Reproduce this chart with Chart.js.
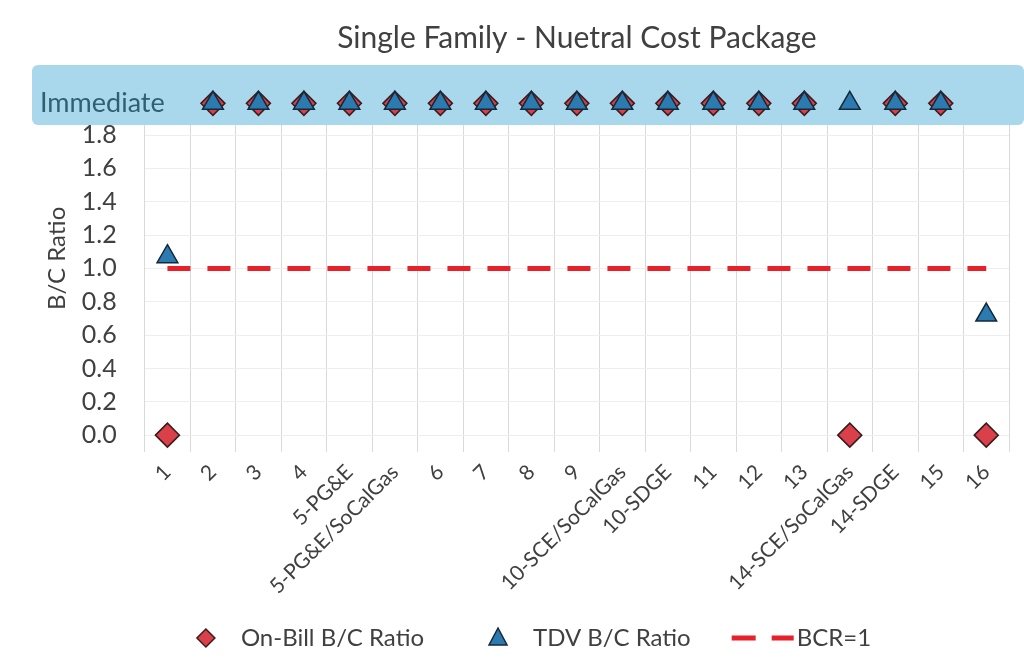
<!DOCTYPE html>
<html lang="en">
<head>
<meta charset="UTF-8">
<title>Single Family - Nuetral Cost Package</title>
<style>
  body { margin: 0; background: #fff; }
  .chart-box { width: 1024px; height: 671px; }
</style>
<script src="https://cdn.jsdelivr.net/npm/chart.js"></script>
</head>
<body>
<div class="chart-box"><canvas id="bcChart"></canvas></div>
<script>
var categories = ['1', '2', '3', '4', '5-PG&E', '5-PG&E/SoCalGas', '6', '7', '8', '9',
    '10-SCE/SoCalGas', '10-SDGE', '11', '12', '13', '14-SCE/SoCalGas', '14-SDGE', '15', '16'];
var onBillRatio = [0, 'Immediate', 'Immediate', 'Immediate', 'Immediate', 'Immediate', 'Immediate',
    'Immediate', 'Immediate', 'Immediate', 'Immediate', 'Immediate', 'Immediate', 'Immediate',
    'Immediate', 0, 'Immediate', 'Immediate', 0];
var tdvRatio = [1.07, 'Immediate', 'Immediate', 'Immediate', 'Immediate', 'Immediate', 'Immediate',
    'Immediate', 'Immediate', 'Immediate', 'Immediate', 'Immediate', 'Immediate', 'Immediate',
    'Immediate', 'Immediate', 'Immediate', 'Immediate', 0.72];
var bcrLine = [1, 1, 1, 1, 1, 1, 1, 1, 1, 1, 1, 1, 1, 1, 1, 1, 1, 1, 1];
var yTicks = [0, 0.2, 0.4, 0.6, 0.8, 1.0, 1.2, 1.4, 1.6, 1.8];

// "Immediate" payback is shown in a band above the numeric range
var immediateLevel = 1.99;
function toY(v) { return v === 'Immediate' ? immediateLevel : v; }

var FONT = 'Lato, "DejaVu Sans", sans-serif';
var textColor = '#404040';
var red = '#d9404a', redEdge = '#3a1c1c';
var blue = '#2b7bb0', blueEdge = '#16283a';
var dashRed = '#e8202a';

var immediateBand = {
    id: 'immediateBand',
    beforeDatasetsDraw: function(chart) {
        var ctx = chart.ctx;
        var y = chart.scales.y;
        var top = y.getPixelForValue(2.22);
        var bottom = y.getPixelForValue(1.86);
        ctx.save();
        ctx.fillStyle = '#a9d7ec';
        ctx.beginPath();
        ctx.roundRect(32, top, chart.width - 32, bottom - top, 6);
        ctx.fill();
        ctx.fillStyle = '#2f5f70';
        ctx.font = '27px ' + FONT;
        ctx.textBaseline = 'middle';
        ctx.fillText('Immediate', 40, y.getPixelForValue(immediateLevel));
        ctx.restore();
    }
};

// legend drawn by hand so the BCR=1 entry keeps its dashes
function drawMarker(ctx, kind, x, y) {
    ctx.beginPath();
    if (kind === 'diamond') {
        ctx.moveTo(x, y - 9); ctx.lineTo(x + 9, y); ctx.lineTo(x, y + 9); ctx.lineTo(x - 9, y);
        ctx.closePath();
        ctx.fillStyle = red; ctx.strokeStyle = redEdge; ctx.lineWidth = 1.5;
        ctx.fill(); ctx.stroke();
    } else if (kind === 'triangle') {
        ctx.moveTo(x, y - 10); ctx.lineTo(x + 9, y + 7); ctx.lineTo(x - 9, y + 7);
        ctx.closePath();
        ctx.fillStyle = blue; ctx.strokeStyle = blueEdge; ctx.lineWidth = 1.5;
        ctx.fill(); ctx.stroke();
    } else {
        ctx.strokeStyle = dashRed; ctx.lineWidth = 5;
        ctx.moveTo(x, y); ctx.lineTo(x + 24, y);
        ctx.moveTo(x + 40, y); ctx.lineTo(x + 62, y);
        ctx.stroke();
    }
}

var bottomLegend = {
    id: 'bottomLegend',
    afterDraw: function(chart) {
        var ctx = chart.ctx;
        var kinds = ['diamond', 'triangle', 'dash'];
        var spacing = [65, 41, 0];
        var y = chart.height - 33;
        ctx.save();
        ctx.font = '24px ' + FONT;
        ctx.textBaseline = 'middle';
        var items = chart.data.datasets.map(function(ds, i) {
            var mw = kinds[i] === 'dash' ? 62 : 18;
            var gap = kinds[i] === 'dash' ? 3 : 26;
            return { kind: kinds[i], text: ds.label, mw: mw, gap: gap, tw: ctx.measureText(ds.label).width, after: spacing[i] };
        });
        var total = 0;
        items.forEach(function(it) { total += it.mw + it.gap + it.tw + it.after; });
        var x = chart.width / 2 - total / 2 + 22;
        items.forEach(function(it) {
            drawMarker(ctx, it.kind, it.kind === 'dash' ? x : x + it.mw / 2, y);
            ctx.fillStyle = textColor;
            ctx.fillText(it.text, x + it.mw + it.gap, y);
            x += it.mw + it.gap + it.tw + it.after;
        });
        ctx.restore();
    }
};

new Chart(document.getElementById('bcChart'), {
    type: 'line',
    data: {
        labels: categories,
        datasets: [
            {
                label: 'On-Bill B/C Ratio',
                data: onBillRatio.map(toY),
                showLine: false,
                pointStyle: 'rectRot',
                pointRadius: 12,
                pointBackgroundColor: red,
                pointBorderColor: redEdge,
                pointBorderWidth: 1.5,
                order: 1
            },
            {
                label: 'TDV B/C Ratio',
                data: tdvRatio.map(toY),
                showLine: false,
                pointStyle: 'triangle',
                pointRadius: 12,
                pointBackgroundColor: blue,
                pointBorderColor: blueEdge,
                pointBorderWidth: 1.5,
                order: 0
            },
            {
                label: 'BCR=1',
                data: bcrLine,
                borderColor: dashRed,
                borderWidth: 5,
                borderDash: [23, 17],
                pointRadius: 0,
                order: 2
            }
        ]
    },
    options: {
        responsive: true,
        maintainAspectRatio: false,
        animation: false,
        layout: { padding: { left: 10, right: 15, top: 0, bottom: 64 } },
        plugins: {
            title: {
                display: true,
                text: 'Single Family - Nuetral Cost Package',
                color: textColor,
                fullSize: false,
                font: { family: FONT, size: 30, weight: 'normal' },
                padding: { top: 20, bottom: 9 }
            },
            legend: { display: false },
            tooltip: { enabled: false }
        },
        scales: {
            x: {
                offset: true,
                grid: { offset: true, color: '#d9d9d9', drawTicks: false },
                border: { display: false },
                ticks: {
                    autoSkip: false,
                    minRotation: 45,
                    maxRotation: 45,
                    padding: 8,
                    color: textColor,
                    font: { family: FONT, size: 21 }
                }
            },
            y: {
                min: -0.1,
                max: 2.22,
                afterBuildTicks: function(scale) {
                    scale.ticks = yTicks.map(function(v) { return { value: v }; });
                },
                grid: { color: '#eeeeee', drawTicks: false },
                border: { display: false },
                title: {
                    display: true,
                    text: 'B/C Ratio',
                    color: textColor,
                    font: { family: FONT, size: 24 },
                    padding: { top: 33, bottom: -18 }
                },
                ticks: {
                    padding: 28,
                    color: textColor,
                    font: { family: FONT, size: 25 },
                    callback: function(v) { return Number(v).toFixed(1); }
                }
            }
        }
    },
    plugins: [immediateBand, bottomLegend]
});
</script>
</body>
</html>
